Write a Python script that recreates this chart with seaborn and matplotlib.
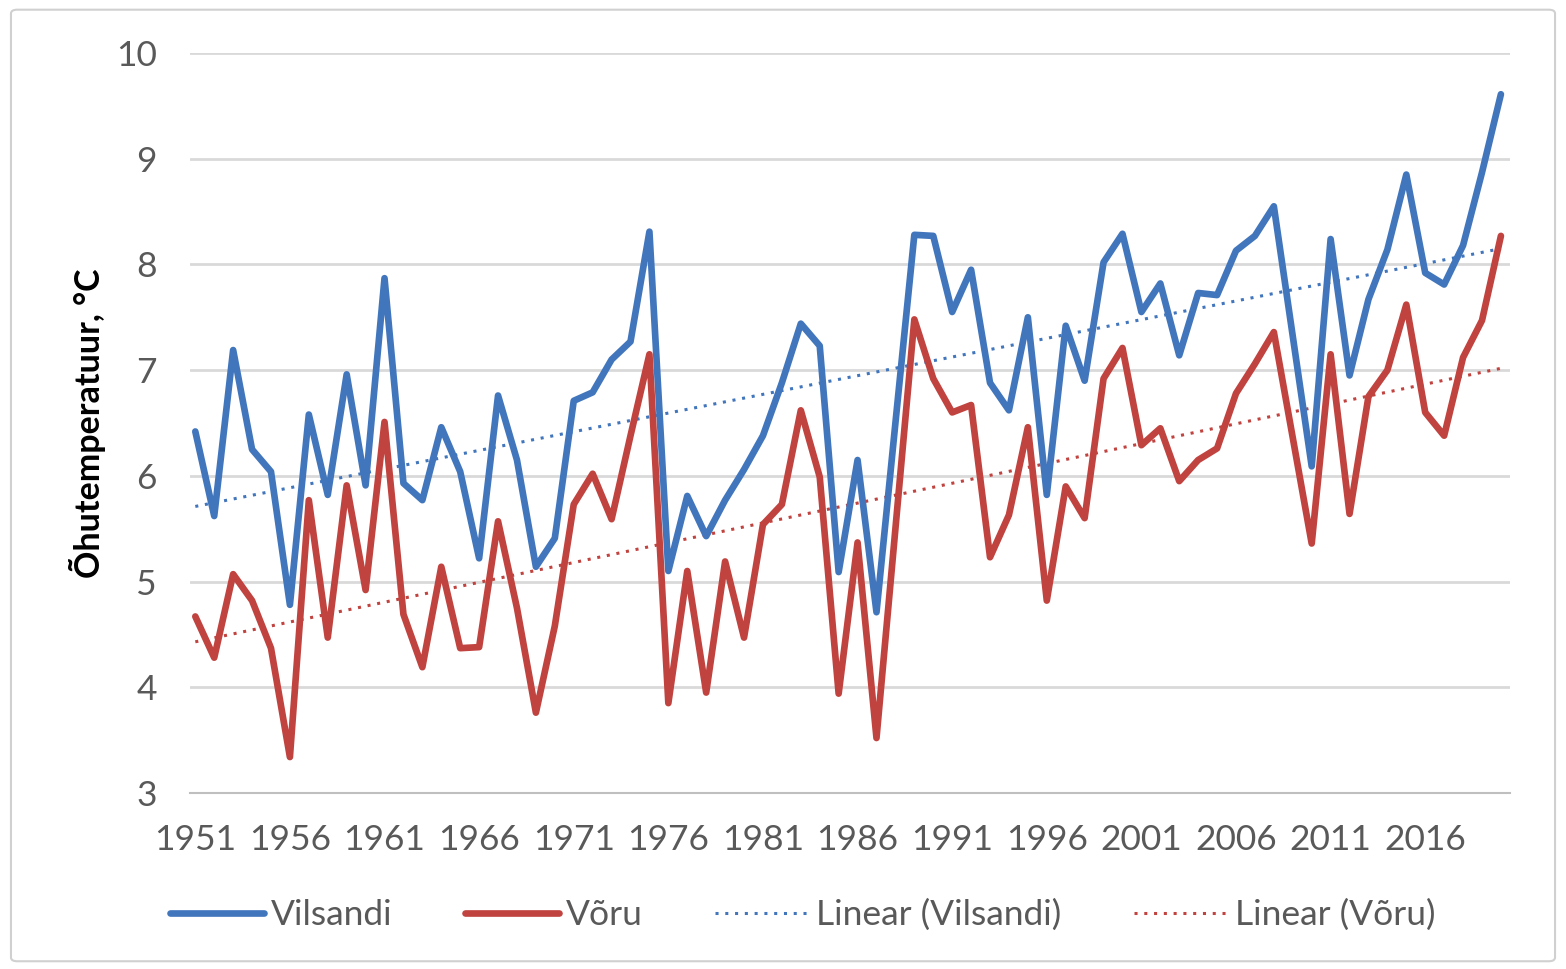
import numpy as np
import pandas as pd
import matplotlib
matplotlib.use("Agg")
import matplotlib.pyplot as plt
import seaborn as sns
from matplotlib.patches import FancyBboxPatch

years = list(range(1951, 2021))

vilsandi = [6.42, 5.62, 7.19, 6.25, 6.04, 4.78, 6.58, 5.82, 6.96, 5.91,
            7.87, 5.93, 5.77, 6.46, 6.04, 5.22, 6.76, 6.15, 5.14, 5.41,
            6.71, 6.79, 7.10, 7.27, 8.31, 5.10, 5.81, 5.43, 5.77, 6.06,
            6.38, 6.88, 7.44, 7.23, 5.09, 6.15, 4.71, 6.50, 8.28, 8.27,
            7.55, 7.95, 6.88, 6.62, 7.50, 5.82, 7.42, 6.90, 8.02, 8.29,
            7.55, 7.82, 7.14, 7.73, 7.71, 8.13, 8.27, 8.55, 7.32, 6.09,
            8.24, 6.95, 7.67, 8.14, 8.85, 7.92, 7.81, 8.18, 8.87, 9.61]

voru = [4.67, 4.28, 5.07, 4.82, 4.37, 3.34, 5.77, 4.47, 5.91, 4.92,
        6.51, 4.69, 4.19, 5.14, 4.37, 4.38, 5.57, 4.75, 3.76, 4.58,
        5.73, 6.02, 5.59, 6.38, 7.15, 3.85, 5.10, 3.95, 5.19, 4.47,
        5.54, 5.73, 6.62, 5.99, 3.94, 5.37, 3.52, 5.50, 7.48, 6.92,
        6.60, 6.67, 5.23, 5.63, 6.46, 4.82, 5.90, 5.60, 6.92, 7.21,
        6.29, 6.45, 5.95, 6.15, 6.26, 6.78, 7.06, 7.36, 6.36, 5.36,
        7.15, 5.64, 6.75, 7.00, 7.62, 6.60, 6.38, 7.12, 7.47, 8.27]

tick_years = list(range(1951, 2020, 5))
y_ticks = [3, 4, 5, 6, 7, 8, 9, 10]

series_names = ["Vilsandi", "Võru"]
trend_names = ["Linear (Vilsandi)", "Linear (Võru)"]

df = pd.DataFrame({"year": years, "Vilsandi": vilsandi, "Võru": voru})

sns.set_theme(style="white")
plt.rcParams["font.family"] = ["Lato", "DejaVu Sans"]

BLUE = "#4276BC"
RED = "#C0433F"
GRID = "#D9D9D9"
TXT = "#595959"

fig = plt.figure(figsize=(15.66, 9.69), dpi=100)
fig.patches.append(FancyBboxPatch((0.007, 0.008), 0.986, 0.982,
                                  boxstyle="round,pad=0,rounding_size=0.004",
                                  transform=fig.transFigure, facecolor="white",
                                  edgecolor="#D0D0D0", linewidth=1.5, zorder=-10))
ax = fig.add_axes([190 / 1566, 1 - 793 / 969, (1510 - 190) / 1566, (793 - 53) / 969])
ax.set_facecolor("none")

sns.lineplot(data=df, x="year", y="Vilsandi", ax=ax, color=BLUE, linewidth=4.8,
             label=series_names[0], zorder=3)
sns.lineplot(data=df, x="year", y="Võru", ax=ax, color=RED, linewidth=4.8,
             label=series_names[1], zorder=3)
sns.regplot(data=df, x="year", y="Vilsandi", ax=ax, scatter=False, ci=None,
            label=trend_names[0],
            line_kws=dict(color=BLUE, linewidth=2.2, linestyle=(0, (1, 2.2)), zorder=2))
sns.regplot(data=df, x="year", y="Võru", ax=ax, scatter=False, ci=None,
            label=trend_names[1],
            line_kws=dict(color=RED, linewidth=2.2, linestyle=(0, (1, 2.2)), zorder=2))

ax.set_xlim(1950.72, 2020.48)
ax.set_ylim(3, 10)
ax.set_yticks(y_ticks)
ax.set_xticks(tick_years)
ax.set_xticklabels([str(t) for t in tick_years])
ax.set_xticks([1950.75 + 5 * k for k in range(14)], minor=True)
ax.grid(axis="y", color=GRID, linewidth=2)
ax.tick_params(axis="x", which="major", length=0, pad=22, labelsize=25.5, labelcolor=TXT)
ax.tick_params(axis="x", which="minor", length=7, width=1.5, color="#BFBFBF")
ax.tick_params(axis="y", length=0, pad=24, labelsize=25.5, labelcolor=TXT)
for s in ["left", "right", "top"]:
    ax.spines[s].set_visible(False)
ax.spines["bottom"].set_color("#BFBFBF")
ax.spines["bottom"].set_linewidth(1.5)
ax.set_xlabel("")
ax.set_ylabel("Õhutemperatuur, °C", fontsize=24.5, fontweight="bold", color="black", labelpad=7)

handles, labels = ax.get_legend_handles_labels()
order = [labels.index(n) for n in series_names + trend_names]
ax.legend([handles[i] for i in order], [labels[i] for i in order],
          loc="center", bbox_to_anchor=(0.5125, 1 - 915 / 969), bbox_transform=fig.transFigure,
          ncol=4, frameon=False, fontsize=25.5, labelcolor=TXT, handlelength=2.65,
          handletextpad=0.2, columnspacing=2.05)

fig.savefig("out.png", dpi=100)
